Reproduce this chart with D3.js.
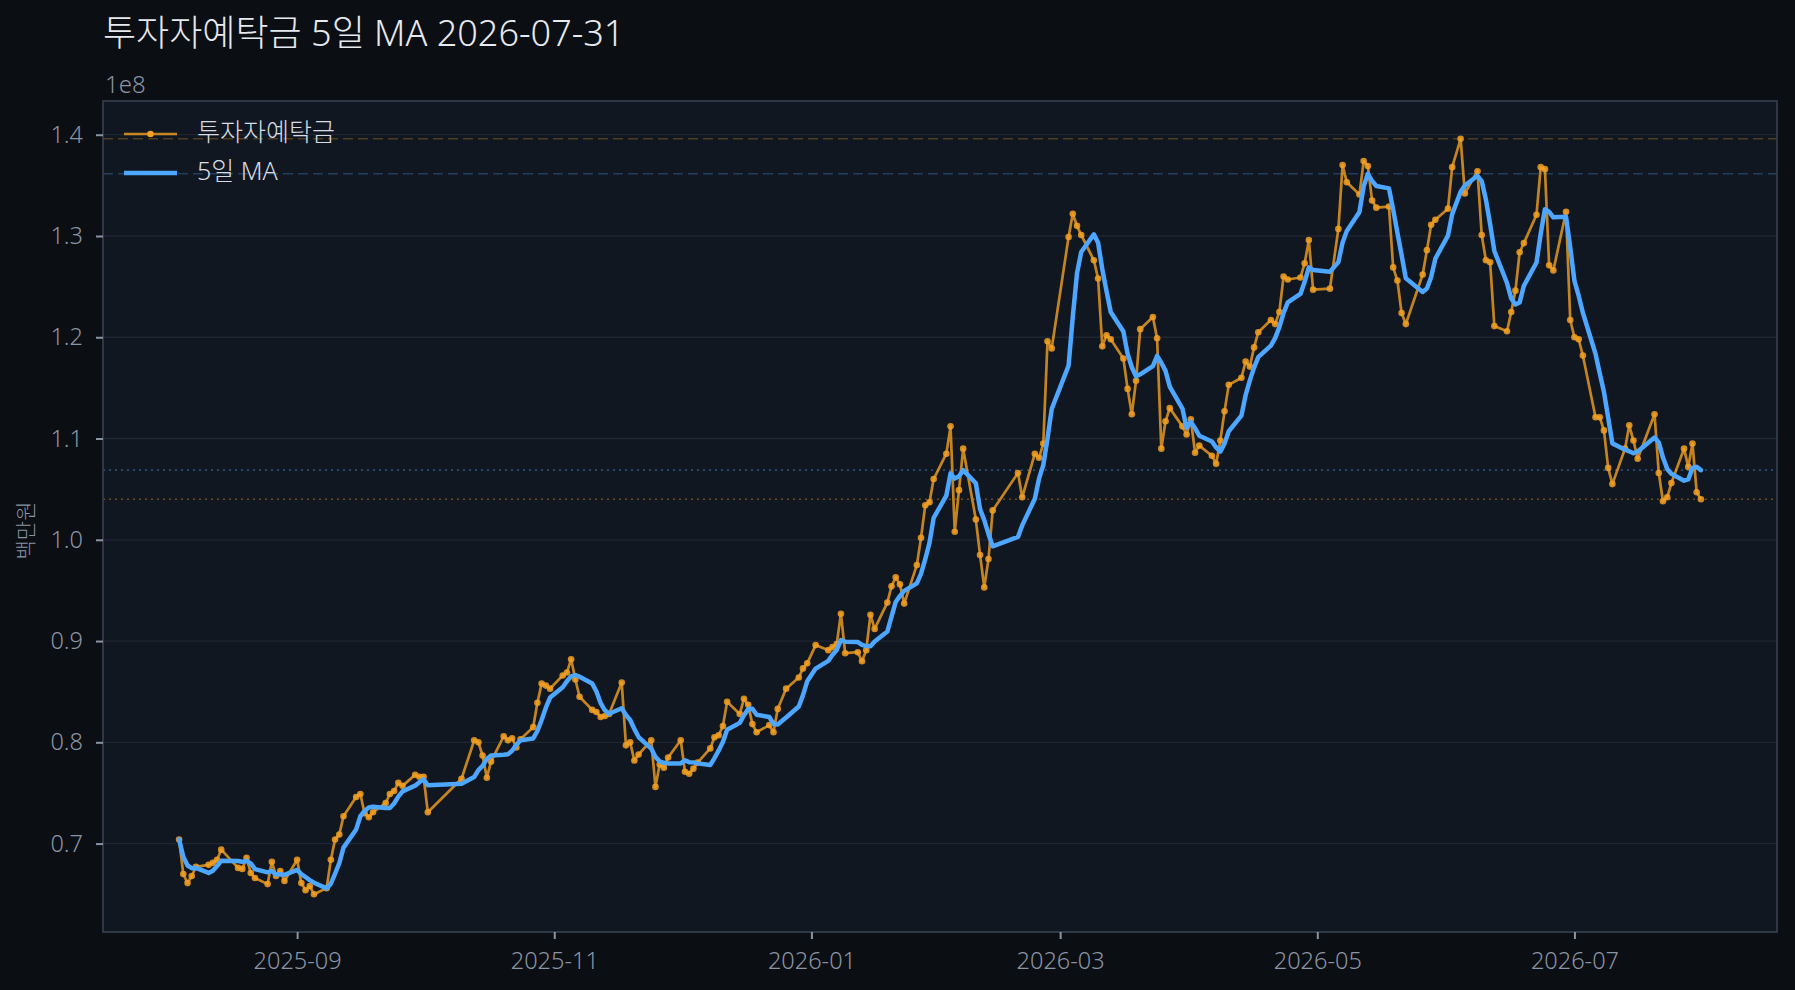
<!DOCTYPE html>
<html>
<head>
<meta charset="utf-8">
<script src="https://cdn.jsdelivr.net/npm/d3@7"></script>
<style>
  html, body { margin: 0; padding: 0; background: #0b0e13; }
  svg { display: block; font-family: "Noto Sans", "Noto Sans CJK KR", sans-serif; }
</style>
</head>
<body>
<svg id="chart" width="1795" height="990"></svg>
<script>
// 투자자예탁금 (unit 1e8 백만원), trading days per month
const monthKeys = ["2025-08", "2025-09", "2025-10", "2025-11", "2025-12", "2026-01",
                   "2026-02", "2026-03", "2026-04", "2026-05", "2026-06", "2026-07"];

const monthDays = [
  [4,5,6,7,8,11,12,13,14,18,19,20,21,22,25,26,27,28,29],
  [1,2,3,4,5,8,9,10,11,12,15,16,17,18,19,22,23,24,25,26,29,30],
  [1,2,10,13,14,15,16,17,20,21,22,23,24,27,28,29,30,31],
  [3,4,5,6,7,10,11,12,13,14,17,18,19,20,21,24,25,26,27,28],
  [1,2,3,4,5,8,9,10,11,12,15,16,17,18,19,22,23,24,26,29,30,31],
  [2,5,6,7,8,9,12,13,14,15,16,19,20,21,22,23,26,27,28,29,30],
  [2,3,4,5,6,9,10,11,12,13,19,20,23,24,25,26,27],
  [3,4,5,6,9,10,11,12,13,16,17,18,19,20,23,24,25,26,27,30,31],
  [1,2,3,6,7,8,9,10,13,14,15,16,17,20,21,22,23,24,27,28,29,30],
  [4,6,7,8,11,12,13,14,15,18,19,20,21,22,26,27,28,29],
  [1,2,4,5,8,9,10,11,12,15,16,17,18,19,22,23,24,25,26,29,30],
  [1,2,3,6,7,8,9,10,13,14,15,16,20,21,22,23,24,27,28,29,30,31]
];

const monthValues = [
  [0.704,0.670,0.661,0.668,0.677,0.679,0.681,0.684,0.694,0.676,0.675,0.686,0.671,0.666,0.660,0.682,0.668,0.673,0.663],
  [0.684,0.661,0.654,0.658,0.650,0.656,0.684,0.704,0.709,0.727,0.746,0.749,0.730,0.726,0.731,0.740,0.749,0.752,0.760,0.757,0.768,0.766],
  [0.766,0.731,0.764,0.802,0.800,0.787,0.765,0.781,0.806,0.802,0.804,0.795,0.803,0.815,0.839,0.858,0.856,0.853],
  [0.866,0.869,0.882,0.862,0.845,0.832,0.830,0.825,0.826,0.828,0.859,0.797,0.800,0.782,0.788,0.802,0.756,0.778,0.775,0.785],
  [0.802,0.771,0.769,0.774,0.780,0.794,0.805,0.807,0.816,0.840,0.828,0.843,0.837,0.818,0.810,0.817,0.810,0.833,0.853,0.864,0.873,0.878],
  [0.896,0.891,0.894,0.897,0.927,0.888,0.889,0.880,0.891,0.926,0.912,0.938,0.954,0.963,0.956,0.937,0.975,1.002,1.034,1.037,1.060],
  [1.085,1.112,1.008,1.049,1.090,1.020,0.985,0.953,0.981,1.029,1.066,1.042,1.085,1.081,1.095,1.196,1.189],
  [1.299,1.322,1.310,1.301,1.276,1.258,1.191,1.202,1.198,1.179,1.149,1.124,1.157,1.208,1.220,1.199,1.090,1.117,1.130,1.112,1.104],
  [1.119,1.086,1.093,1.083,1.075,1.098,1.127,1.153,1.160,1.176,1.171,1.190,1.205,1.217,1.213,1.225,1.260,1.257,1.259,1.273,1.296,1.247],
  [1.248,1.307,1.370,1.353,1.341,1.374,1.369,1.335,1.328,1.329,1.269,1.256,1.224,1.213,1.262,1.286,1.311,1.316],
  [1.327,1.368,1.396,1.342,1.364,1.301,1.276,1.274,1.211,1.206,1.225,1.246,1.284,1.293,1.321,1.368,1.366,1.271,1.266,1.324,1.217],
  [1.200,1.198,1.182,1.121,1.121,1.108,1.071,1.055,1.090,1.113,1.098,1.080,1.124,1.066,1.038,1.042,1.056,1.090,1.072,1.095,1.047,1.040]
];

const titleText = "투자자예탁금 5일 MA 2026-07-31";
const seriesNames = ["투자자예탁금", "5일 MA"];
const yLabel = "백만원";
const offsetLabel = "1e8";
const maWindow = 5;

// colours
const bgColor = "#0b0e13";
const panelColor = "#111720";
const gridColor = "#1e2632";
const spineColor = "#364150";
const tickColor = "#8a94a3";
const rawColor = "#f2a023";
const maColor = "#4da6ff";
const fontStack = '"Noto Sans", "Noto Sans CJK KR", sans-serif';

// build the series
const parseDay = d3.timeParse("%Y-%m-%d");
const data = [];
monthKeys.forEach((m, i) => {
    monthDays[i].forEach((d, j) => {
        data.push({ date: parseDay(`${m}-${String(d).padStart(2, "0")}`), value: monthValues[i][j] });
    });
});
// rolling mean, shorter window at the start
data.forEach((d, i) => {
    d.ma = d3.mean(data.slice(Math.max(0, i - maWindow + 1), i + 1), e => e.value);
});

const svg = d3.select("#chart");
const W = 1795, H = 990;
const margin = { left: 103, right: 18, top: 101, bottom: 58 };
const plotW = W - margin.left - margin.right;
const plotH = H - margin.top - margin.bottom;

svg.append("rect").attr("width", W).attr("height", H).attr("fill", bgColor);

const g = svg.append("g").attr("transform", `translate(${margin.left},${margin.top})`);
g.append("rect").attr("width", plotW).attr("height", plotH).attr("fill", panelColor);

// matplotlib style 5% margins
const xExt = d3.extent(data, d => d.date);
const xPad = (xExt[1] - xExt[0]) * 0.05;
const x = d3.scaleTime()
    .domain([new Date(+xExt[0] - xPad), new Date(+xExt[1] + xPad)])
    .range([0, plotW]);

const yMin = d3.min(data, d => Math.min(d.value, d.ma));
const yMax = d3.max(data, d => Math.max(d.value, d.ma));
const yPad = (yMax - yMin) * 0.05;
const y = d3.scaleLinear().domain([yMin - yPad, yMax + yPad]).range([plotH, 0]);

// horizontal grid
const yTicks = y.ticks(10);
g.selectAll("line.grid")
    .data(yTicks)
    .enter()
    .append("line")
    .attr("class", "grid")
    .attr("x1", 0).attr("x2", plotW)
    .attr("y1", d => y(d)).attr("y2", d => y(d))
    .attr("stroke", gridColor)
    .attr("stroke-width", 1.3);

// reference lines: max and latest of each series
const last = data[data.length - 1];
const refLines = [
    { v: d3.max(data, d => d.value), color: rawColor, dash: "10,5", op: 0.28 },
    { v: d3.max(data, d => d.ma), color: maColor, dash: "10,5", op: 0.28 },
    { v: last.ma, color: maColor, dash: "2,4", op: 0.4 },
    { v: last.value, color: rawColor, dash: "2,4", op: 0.4 }
];
g.selectAll("line.ref")
    .data(refLines)
    .enter()
    .append("line")
    .attr("class", "ref")
    .attr("x1", 0).attr("x2", plotW)
    .attr("y1", d => y(d.v)).attr("y2", d => y(d.v))
    .attr("stroke", d => d.color)
    .attr("stroke-opacity", d => d.op)
    .attr("stroke-width", 1.6)
    .attr("stroke-dasharray", d => d.dash);

// raw series
const rawLine = d3.line().x(d => x(d.date)).y(d => y(d.value));
g.append("path")
    .datum(data)
    .attr("d", rawLine)
    .attr("fill", "none")
    .attr("stroke", rawColor)
    .attr("stroke-opacity", 0.8)
    .attr("stroke-width", 2.7)
    .attr("stroke-linejoin", "round");

g.selectAll("circle.pt")
    .data(data)
    .enter()
    .append("circle")
    .attr("class", "pt")
    .attr("cx", d => x(d.date))
    .attr("cy", d => y(d.value))
    .attr("r", 3.3)
    .attr("fill", rawColor)
    .attr("fill-opacity", 0.85);

// moving average
const maLine = d3.line().x(d => x(d.date)).y(d => y(d.ma));
g.append("path")
    .datum(data)
    .attr("d", maLine)
    .attr("fill", "none")
    .attr("stroke", maColor)
    .attr("stroke-width", 4.5)
    .attr("stroke-linejoin", "round")
    .attr("stroke-linecap", "round");

// frame
g.append("rect")
    .attr("width", plotW).attr("height", plotH)
    .attr("fill", "none")
    .attr("stroke", spineColor)
    .attr("stroke-width", 1.6);

// axes
const yAxis = g.append("g")
    .call(d3.axisLeft(y).tickValues(yTicks).tickFormat(d3.format(".1f")).tickSize(7).tickPadding(13));
const xAxis = g.append("g")
    .attr("transform", `translate(0,${plotH})`)
    .call(d3.axisBottom(x).ticks(d3.timeMonth.every(2)).tickFormat(d3.timeFormat("%Y-%m")).tickSize(7).tickPadding(13));

[yAxis, xAxis].forEach(a => {
    a.select(".domain").remove();
    a.selectAll(".tick line").attr("stroke", tickColor).attr("stroke-width", 2);
    a.selectAll(".tick text")
        .attr("fill", tickColor)
        .attr("font-size", "23.5px")
        .attr("font-weight", 300)
        .style("font-family", fontStack);
});

// offset text and axis label
svg.append("text")
    .attr("x", margin.left + 2).attr("y", 93)
    .attr("fill", tickColor)
    .attr("font-size", "24px")
    .attr("font-weight", 300)
    .text(offsetLabel);

svg.append("text")
    .attr("transform", `translate(27,${margin.top + plotH / 2 + 14}) rotate(-90)`)
    .attr("text-anchor", "middle")
    .attr("dominant-baseline", "middle")
    .attr("fill", tickColor)
    .attr("font-size", "21px")
    .attr("font-weight", 300)
    .text(yLabel);

// title
svg.append("text")
    .attr("x", margin.left).attr("y", 46)
    .attr("fill", "#e6e9ee")
    .attr("font-size", "36px")
    .attr("font-weight", 300)
    .text(titleText);

// legend
const legend = g.append("g").attr("transform", "translate(21,33)");
const legendItems = [
    { name: seriesNames[0], color: rawColor, width: 2.7, op: 0.8, marker: true },
    { name: seriesNames[1], color: maColor, width: 4.5, op: 1, marker: false }
];
const rows = legend.selectAll("g.item")
    .data(legendItems)
    .enter()
    .append("g")
    .attr("class", "item")
    .attr("transform", (d, i) => `translate(0,${i * 39})`);
rows.append("line")
    .attr("x1", 0).attr("x2", 53)
    .attr("stroke", d => d.color)
    .attr("stroke-opacity", d => d.op)
    .attr("stroke-width", d => d.width);
rows.filter(d => d.marker)
    .append("circle")
    .attr("cx", 26.5).attr("r", 3.3)
    .attr("fill", d => d.color);
rows.append("text")
    .attr("x", 73)
    .attr("dominant-baseline", "middle")
    .attr("fill", "#d8dce2")
    .attr("font-size", "25px")
    .attr("font-weight", 300)
    .text(d => d.name);
</script>
</body>
</html>
